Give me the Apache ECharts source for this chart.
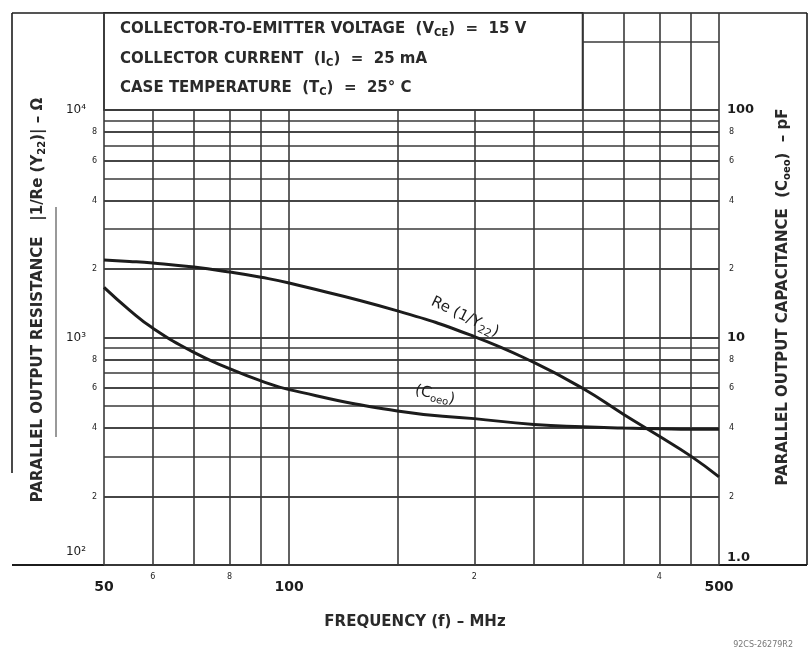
<!DOCTYPE html>
<html>
<head>
<meta charset="utf-8">
<script src="https://cdn.jsdelivr.net/npm/echarts@6/dist/echarts.min.js"></script>
<style>
  html, body { margin: 0; padding: 0; background: #fff; }
  #chart { width: 809px; height: 659px; }
</style>
</head>
<body>
<div id="chart"></div>
<script>
// curve points, frequency in MHz
const freq = [50, 55, 60, 70, 80, 90, 100, 150, 200, 250, 300, 350, 400, 450, 500]
// Re(1/Y22) in ohms (left axis)
const reOhm = [2190, 2160, 2125, 2040, 1940, 1840, 1735, 1310, 1010, 777, 598, 459, 368, 301, 244]
// Coeo in pF (right axis)
const coeoPf = [16.6, 13.2, 11.0, 8.6, 7.3, 6.45, 5.9, 4.75, 4.4, 4.15, 4.05, 4.0, 3.97, 3.95, 3.95]

// grid lines and tick labels
const xGrid = [50, 60, 70, 80, 90, 100, 150, 200, 250, 300, 350, 400, 450, 500]
const xLabels = { 50: '50', 60: '6', 80: '8', 100: '100', 200: '2', 400: '4', 500: '500' }
const ohmGrid = [200, 300, 400, 500, 600, 700, 800, 900, 1000, 2000, 3000, 4000, 5000, 6000, 7000, 8000, 9000, 10000]
const ohmLabels = { 100: '10²', 200: '2', 400: '4', 600: '6', 800: '8', 1000: '10³', 2000: '2', 4000: '4', 6000: '6', 8000: '8', 10000: '10⁴' }
const pfLabels = { 1: '1.0', 2: '2', 4: '4', 6: '6', 8: '8', 10: '10', 20: '2', 40: '4', 60: '6', 80: '8', 100: '100' }
const ohmRange = [100, 26700]
const pfRange = [1, 267]
// the text box hides the grid above 10^4 ohm up to 300 MHz
const boxFreq = 300
const boxOhm = 10000
const upperOhm = [20000]

const FONT = 'DejaVu Sans'
const INK = '#1c1c1c'
const GRID = '#3a3a3a'

const chart = echarts.init(document.getElementById('chart'))

const isMajor = (v) => Math.abs(Math.log10(v) - Math.round(Math.log10(v))) < 1e-9

const vLines = xGrid.map((f) => {
  const top = (f < boxFreq && f !== 50) ? boxOhm : ohmRange[1]
  const txt = xLabels[f]
  const major = txt && txt.length > 1
  return [
    {
      coord: [f, ohmRange[0]],
      label: txt ? {
        show: true, position: 'start', formatter: txt,
        distance: major ? 15 : 8,
        fontSize: major ? 14 : 8, fontWeight: major ? 'bold' : 'normal',
        color: INK, fontFamily: FONT
      } : { show: false }
    },
    { coord: [f, top] }
  ]
})

// the lowest label of each scale sits just above the bottom line
const lowLabel = (txt, lift, size, weight) => ({
  formatter: '{t|' + txt + '}',
  rich: { t: { fontSize: size, fontWeight: weight, fontFamily: FONT, color: INK, padding: [0, 0, lift, 0] } }
})

const hLinesLeft = [100].concat(ohmGrid).map((v) => {
  const txt = ohmLabels[v]
  const major = isMajor(v)
  const label = txt ? Object.assign({
    show: true, position: 'start', formatter: txt,
    distance: major ? 18 : 7,
    fontSize: major ? 12 : 8,
    color: INK, fontFamily: FONT
  }, v === 100 ? lowLabel(txt, 26, 12, 'normal') : {}) : { show: false }
  return [{ coord: [50, v], label }, { coord: [500, v] }]
}).concat(upperOhm.map((v) => [{ coord: [boxFreq, v], label: { show: false } }, { coord: [500, v] }]))

const hLinesRight = Object.keys(pfLabels).map(Number).map((v) => {
  const major = isMajor(v)
  const label = Object.assign({
    show: true, position: 'end', formatter: pfLabels[v],
    distance: major ? 8 : 10,
    fontSize: major ? 13 : 8, fontWeight: major ? 'bold' : 'normal',
    color: INK, fontFamily: FONT
  }, v === 1 ? lowLabel(pfLabels[v], 14, 13, 'bold') : {})
  return [{ coord: [50, v] }, { coord: [500, v], label }]
})

const sub = { fontSize: 10, padding: [9, 0, 0, 0], fontFamily: FONT, fill: INK }
const subB = { fontSize: 10, fontWeight: 'bold', padding: [9, 0, 0, 0], fontFamily: FONT, fill: INK }
const boxText = { fontSize: 15, fontWeight: 'bold', fontFamily: FONT, fill: '#2a2a2a' }

const options = {
  animation: false,
  backgroundColor: '#fff',
  grid: { left: 104, right: 90, top: 13, bottom: 94 },
  xAxis: {
    type: 'log', logBase: 10, min: 50, max: 500,
    axisLine: { show: false }, axisTick: { show: false },
    axisLabel: { show: false }, splitLine: { show: false }
  },
  yAxis: [
    {
      type: 'log', logBase: 10, min: ohmRange[0], max: ohmRange[1],
      axisLine: { show: false }, axisTick: { show: false },
      axisLabel: { show: false }, splitLine: { show: false }
    },
    {
      type: 'log', logBase: 10, min: pfRange[0], max: pfRange[1], position: 'right',
      axisLine: { show: false }, axisTick: { show: false },
      axisLabel: { show: false }, splitLine: { show: false }
    }
  ],
  series: [
    {
      name: 'Re(1/Y22)',
      type: 'line',
      yAxisIndex: 0,
      data: freq.map((f, i) => [f, reOhm[i]]),
      showSymbol: false,
      smooth: 0.5,
      z: 6,
      lineStyle: { width: 3, color: INK },
      markLine: {
        silent: true, symbol: ['none', 'none'],
        lineStyle: { type: 'solid', width: 1.6, color: GRID },
        data: vLines.concat(hLinesLeft)
      },
      markArea: {
        silent: true,
        itemStyle: { color: '#fff', borderColor: INK, borderWidth: 1.6, opacity: 1 },
        data: [[{ coord: [50, boxOhm] }, { coord: [boxFreq, ohmRange[1]] }]]
      }
    },
    {
      name: 'Coeo',
      type: 'line',
      yAxisIndex: 1,
      data: freq.map((f, i) => [f, coeoPf[i]]),
      showSymbol: false,
      smooth: 0.5,
      z: 6,
      lineStyle: { width: 3, color: INK },
      markLine: {
        silent: true, symbol: ['none', 'none'],
        lineStyle: { type: 'solid', width: 1.6, color: GRID },
        data: hLinesRight
      }
    }
  ],
  graphic: [
    // outer frame
    { type: 'line', shape: { x1: 12, y1: 13, x2: 807, y2: 13 }, style: { stroke: INK, lineWidth: 1.6 } },
    { type: 'line', shape: { x1: 807, y1: 13, x2: 807, y2: 565 }, style: { stroke: INK, lineWidth: 1.6 } },
    { type: 'line', shape: { x1: 12, y1: 565, x2: 807, y2: 565 }, style: { stroke: INK, lineWidth: 2 } },
    { type: 'line', shape: { x1: 12, y1: 13, x2: 12, y2: 473 }, style: { stroke: INK, lineWidth: 1.6 } },
    { type: 'line', shape: { x1: 56, y1: 207, x2: 56, y2: 437 }, style: { stroke: '#555', lineWidth: 1.2 } },
    // conditions box text
    {
      type: 'text', x: 120, y: 29, z: 10,
      style: {
        text: '{a|COLLECTOR-TO-EMITTER VOLTAGE  (V}{s|CE}{a|)  =  15 V}',
        verticalAlign: 'middle',
        rich: { a: boxText, s: subB }
      }
    },
    {
      type: 'text', x: 120, y: 59, z: 10,
      style: {
        text: '{a|COLLECTOR CURRENT  (I}{s|C}{a|)  =  25 mA}',
        verticalAlign: 'middle',
        rich: { a: boxText, s: subB }
      }
    },
    {
      type: 'text', x: 120, y: 88, z: 10,
      style: {
        text: '{a|CASE TEMPERATURE  (T}{s|C}{a|)  =  25° C}',
        verticalAlign: 'middle',
        rich: { a: boxText, s: subB }
      }
    },
    // curve labels
    {
      type: 'text', x: 465, y: 317, rotation: -0.45, z: 10,
      style: {
        text: '{a|Re (1/Y}{s|22}{a|)}',
        align: 'center', verticalAlign: 'middle',
        rich: { a: { fontSize: 15, fontFamily: FONT, fill: INK }, s: { fontSize: 11, padding: [10, 0, 0, 0], fontFamily: FONT, fill: INK } }
      }
    },
    {
      type: 'text', x: 435, y: 395, rotation: -0.24, z: 10,
      style: {
        text: '{a|(C}{s|oeo}{a|)}',
        align: 'center', verticalAlign: 'middle',
        rich: { a: { fontSize: 15, fontFamily: FONT, fill: INK }, s: sub }
      }
    },
    // axis titles
    {
      type: 'text', x: 38, y: 300, rotation: Math.PI / 2,
      style: {
        text: '{a|PARALLEL OUTPUT RESISTANCE   |1/Re (Y}{s|22}{a|)| – Ω}',
        align: 'center', verticalAlign: 'middle',
        rich: { a: { fontSize: 15, fontWeight: 'bold', fontFamily: FONT, fill: '#2a2a2a' }, s: subB }
      }
    },
    {
      type: 'text', x: 783, y: 297, rotation: Math.PI / 2,
      style: {
        text: '{a|PARALLEL OUTPUT CAPACITANCE  (C}{s|oeo}{a|)  – pF}',
        align: 'center', verticalAlign: 'middle',
        rich: { a: { fontSize: 15, fontWeight: 'bold', fontFamily: FONT, fill: '#2a2a2a' }, s: subB }
      }
    },
    {
      type: 'text', x: 415, y: 622,
      style: {
        text: 'FREQUENCY (f) – MHz', align: 'center', verticalAlign: 'middle',
        fontSize: 15, fontWeight: 'bold', fontFamily: FONT, fill: '#2a2a2a'
      }
    },
    {
      type: 'text', x: 793, y: 645,
      style: {
        text: '92CS-26279R2', align: 'right', verticalAlign: 'middle',
        fontSize: 8, fontFamily: FONT, fill: '#777'
      }
    }
  ]
}

chart.setOption(options)
</script>
</body>
</html>
